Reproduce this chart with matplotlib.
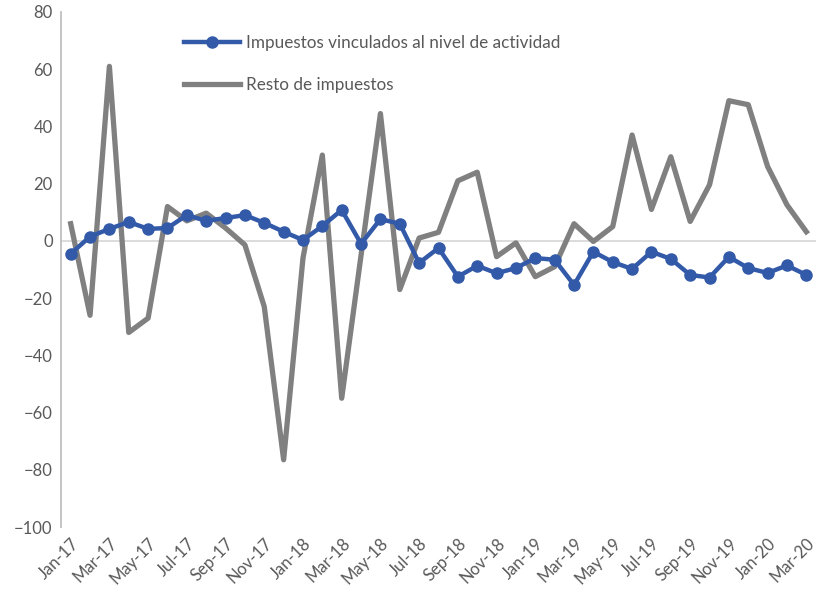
import matplotlib
matplotlib.use("Agg")
import matplotlib.pyplot as plt

plt.rcParams['font.family'] = ['Lato', 'DejaVu Sans']

months = ['Jan', 'Feb', 'Mar', 'Apr', 'May', 'Jun', 'Jul', 'Aug', 'Sep', 'Oct', 'Nov', 'Dec']
labels = []
for yr in ['17', '18', '19', '20']:
    for m in months:
        labels.append(m + '-' + yr)
labels = labels[:39]   # Jan-17 .. Mar-20

actividad = [-4.5, 1.5, 4.2, 6.6, 4.2, 4.5, 9.0, 7.0, 8.0, 9.0, 6.3, 3.2,
             0.3, 5.2, 10.8, -1.0, 7.6, 6.0, -7.7, -2.5, -12.5, -8.7, -11.3, -9.5,
             -6.0, -6.6, -15.4, -3.8, -7.4, -9.8, -3.8, -6.3, -11.9, -12.8, -5.6, -9.5,
             -11.2, -8.6, -11.9]

resto = [6.0, -26.0, 61.0, -32.0, -27.0, 12.0, 7.0, 9.7, 4.5, -1.4, -23.0, -76.5,
         -6.0, 30.0, -55.0, -5.0, 44.5, -17.0, 1.0, 3.0, 21.0, 24.0, -5.5, -0.7,
         -12.5, -9.0, 6.0, -0.2, 5.0, 37.0, 11.0, 29.4, 6.8, 19.6, 49.0, 47.6,
         26.0, 12.6, 3.2]

x = list(range(len(labels)))

fig = plt.figure(figsize=(8.17, 6.0), dpi=100)
ax = fig.add_axes([61 / 817, 73 / 600, 755 / 817, 515 / 600])

ax.axhline(0, color='#d9d9d9', lw=1.3, zorder=1)
ax.plot(x, actividad, color='#335aa8', lw=3.2, marker='o', markersize=8,
        label='Impuestos vinculados al nivel de actividad', zorder=3)
ax.plot(x, resto, color='#808080', lw=3.8, label='Resto de impuestos', zorder=2)

ax.set_xlim(-0.5, 38.5)
ax.set_ylim(-100, 80)
ax.set_yticks(range(-100, 81, 20))
ax.set_xticks(x[::2])
ax.set_xticklabels(labels[::2], rotation=45, ha='right', va='top',
                   rotation_mode='anchor')
ax.tick_params(axis='both', length=0, labelsize=12, colors='#595959')
ax.tick_params(axis='x', pad=6)
ax.tick_params(axis='y', pad=6)

for s in ['top', 'right', 'bottom']:
    ax.spines[s].set_visible(False)
ax.spines['left'].set_color('#bfbfbf')
ax.spines['left'].set_linewidth(1.3)

leg = ax.legend(loc='upper left', bbox_to_anchor=(0.163, 0.955), frameon=False,
                fontsize=12.3, handlelength=3.3, labelspacing=1.5,
                borderaxespad=0, borderpad=0, handletextpad=0.3)
for t in leg.get_texts():
    t.set_color('#595959')

fig.savefig('out.png', dpi=100)
